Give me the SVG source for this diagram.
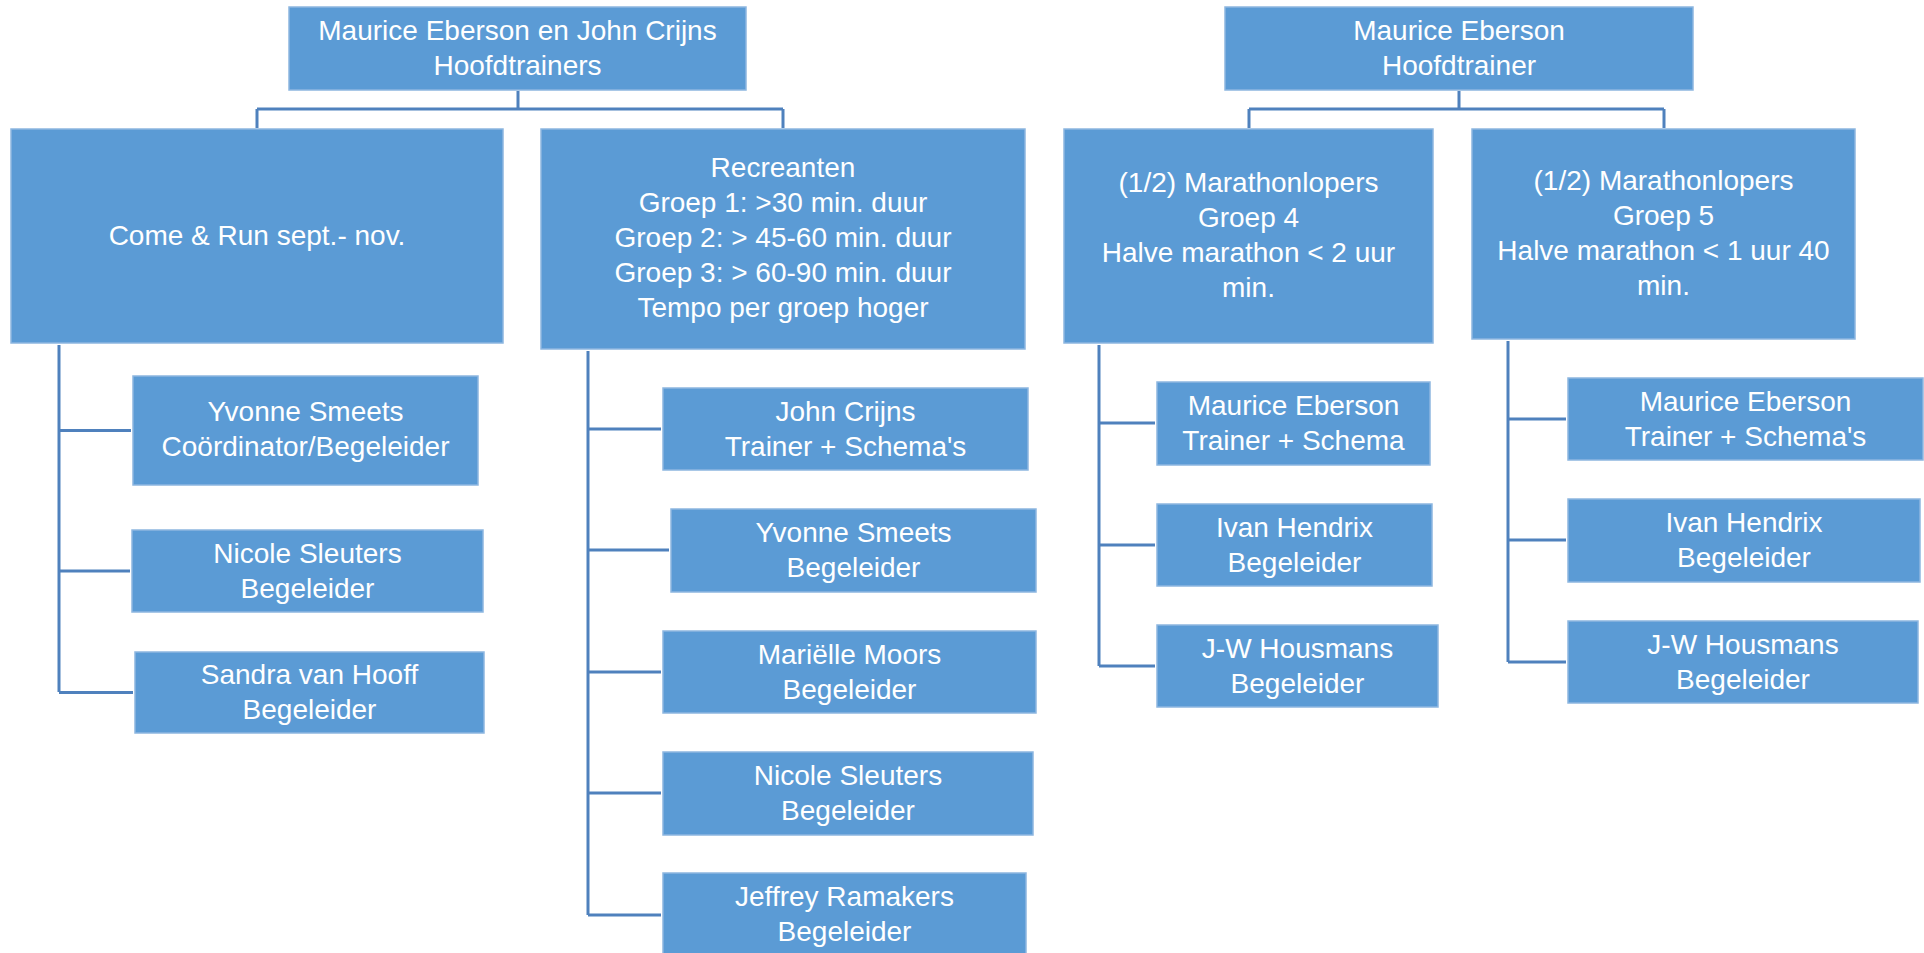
<svg xmlns="http://www.w3.org/2000/svg" width="1924" height="953" viewBox="0 0 1924 953">
<style>
.box{fill:#5B9BD5;stroke:#8DB6E0;stroke-width:1.5}
.t{font-family:"Liberation Sans",Arial,sans-serif;font-size:28px;fill:#ffffff;text-anchor:middle}
.c{fill:none;stroke:#4F81BD;stroke-width:3}
</style>
<rect width="1924" height="953" fill="#ffffff"/>
<g id="connectors">
<path class="c" d="M518 91V109M257 109H783M257 109V128M783 109V128"/>
<path class="c" d="M1459 91V109M1249 109H1664M1249 109V128M1664 109V128"/>
<path class="c" d="M59 345V692M59 430.5H131M59 571H130M59 692.5H133"/>
<path class="c" d="M588 351V915M588 429H661M588 550H669M588 672H661M588 793H661M588 915H661"/>
<path class="c" d="M1099 345V666M1099 423H1155M1099 545H1155M1099 666H1155"/>
<path class="c" d="M1508 341V662M1508 419H1566M1508 540H1566M1508 662H1566"/>
</g>
<g id="n-hoofd1"><rect class="box" x="289" y="7" width="457" height="83"/><text class="t" x="517.5" y="40">Maurice Eberson en John Crijns</text><text class="t" x="517.5" y="75">Hoofdtrainers</text></g>
<g id="n-hoofd2"><rect class="box" x="1225" y="7" width="468" height="83"/><text class="t" x="1459" y="40">Maurice Eberson</text><text class="t" x="1459" y="75">Hoofdtrainer</text></g>
<g id="n-come"><rect class="box" x="11" y="129" width="492" height="214"/><text class="t" x="257" y="245">Come &amp; Run sept.- nov.</text></g>
<g id="n-recr"><rect class="box" x="541" y="129" width="484" height="220"/>
<text class="t" x="783" y="177">Recreanten</text><text class="t" x="783" y="212">Groep 1: &gt;30 min. duur</text><text class="t" x="783" y="247">Groep 2: &gt; 45-60 min. duur</text><text class="t" x="783" y="282">Groep 3: &gt; 60-90 min. duur</text><text class="t" x="783" y="317">Tempo per groep hoger</text></g>
<g id="n-mar4"><rect class="box" x="1064" y="129" width="369" height="214"/>
<text class="t" x="1248.5" y="192">(1/2) Marathonlopers</text><text class="t" x="1248.5" y="227">Groep 4</text><text class="t" x="1248.5" y="262">Halve marathon &lt; 2 uur</text><text class="t" x="1248.5" y="297">min.</text></g>
<g id="n-mar5"><rect class="box" x="1472" y="129" width="383" height="210"/>
<text class="t" x="1663.5" y="190">(1/2) Marathonlopers</text><text class="t" x="1663.5" y="225">Groep 5</text><text class="t" x="1663.5" y="260">Halve marathon &lt; 1 uur 40</text><text class="t" x="1663.5" y="295">min.</text></g>
<g id="n-yvonne1"><rect class="box" x="133" y="376" width="345" height="109"/><text class="t" x="305.5" y="421">Yvonne Smeets</text><text class="t" x="305.5" y="456">Coördinator/Begeleider</text></g>
<g id="n-nicole1"><rect class="box" x="132" y="530" width="351" height="82"/><text class="t" x="307.5" y="562.5">Nicole Sleuters</text><text class="t" x="307.5" y="597.5">Begeleider</text></g>
<g id="n-sandra"><rect class="box" x="135" y="652" width="349" height="81"/><text class="t" x="309.5" y="684">Sandra van Hooff</text><text class="t" x="309.5" y="719">Begeleider</text></g>
<g id="n-john"><rect class="box" x="663" y="388" width="365" height="82"/><text class="t" x="845.5" y="420.5">John Crijns</text><text class="t" x="845.5" y="455.5">Trainer + Schema's</text></g>
<g id="n-yvonne2"><rect class="box" x="671" y="509" width="365" height="83"/><text class="t" x="853.5" y="542">Yvonne Smeets</text><text class="t" x="853.5" y="577">Begeleider</text></g>
<g id="n-marielle"><rect class="box" x="663" y="631" width="373" height="82"/><text class="t" x="849.5" y="663.5">Mariëlle Moors</text><text class="t" x="849.5" y="698.5">Begeleider</text></g>
<g id="n-nicole2"><rect class="box" x="663" y="752" width="370" height="83"/><text class="t" x="848" y="785">Nicole Sleuters</text><text class="t" x="848" y="820">Begeleider</text></g>
<g id="n-jeffrey"><rect class="box" x="663" y="873" width="363" height="95"/><text class="t" x="844.5" y="906">Jeffrey Ramakers</text><text class="t" x="844.5" y="941">Begeleider</text></g>
<g id="n-maurice4"><rect class="box" x="1157" y="382" width="273" height="83"/><text class="t" x="1293.5" y="415">Maurice Eberson</text><text class="t" x="1293.5" y="450">Trainer + Schema</text></g>
<g id="n-ivan4"><rect class="box" x="1157" y="504" width="275" height="82"/><text class="t" x="1294.5" y="536.5">Ivan Hendrix</text><text class="t" x="1294.5" y="571.5">Begeleider</text></g>
<g id="n-jw4"><rect class="box" x="1157" y="625" width="281" height="82"/><text class="t" x="1297.5" y="657.5">J-W Housmans</text><text class="t" x="1297.5" y="692.5">Begeleider</text></g>
<g id="n-maurice5"><rect class="box" x="1568" y="378" width="355" height="82"/><text class="t" x="1745.5" y="410.5">Maurice Eberson</text><text class="t" x="1745.5" y="445.5">Trainer + Schema's</text></g>
<g id="n-ivan5"><rect class="box" x="1568" y="499" width="352" height="83"/><text class="t" x="1744" y="532">Ivan Hendrix</text><text class="t" x="1744" y="567">Begeleider</text></g>
<g id="n-jw5"><rect class="box" x="1568" y="621" width="350" height="82"/><text class="t" x="1743" y="653.5">J-W Housmans</text><text class="t" x="1743" y="688.5">Begeleider</text></g>
</svg>
